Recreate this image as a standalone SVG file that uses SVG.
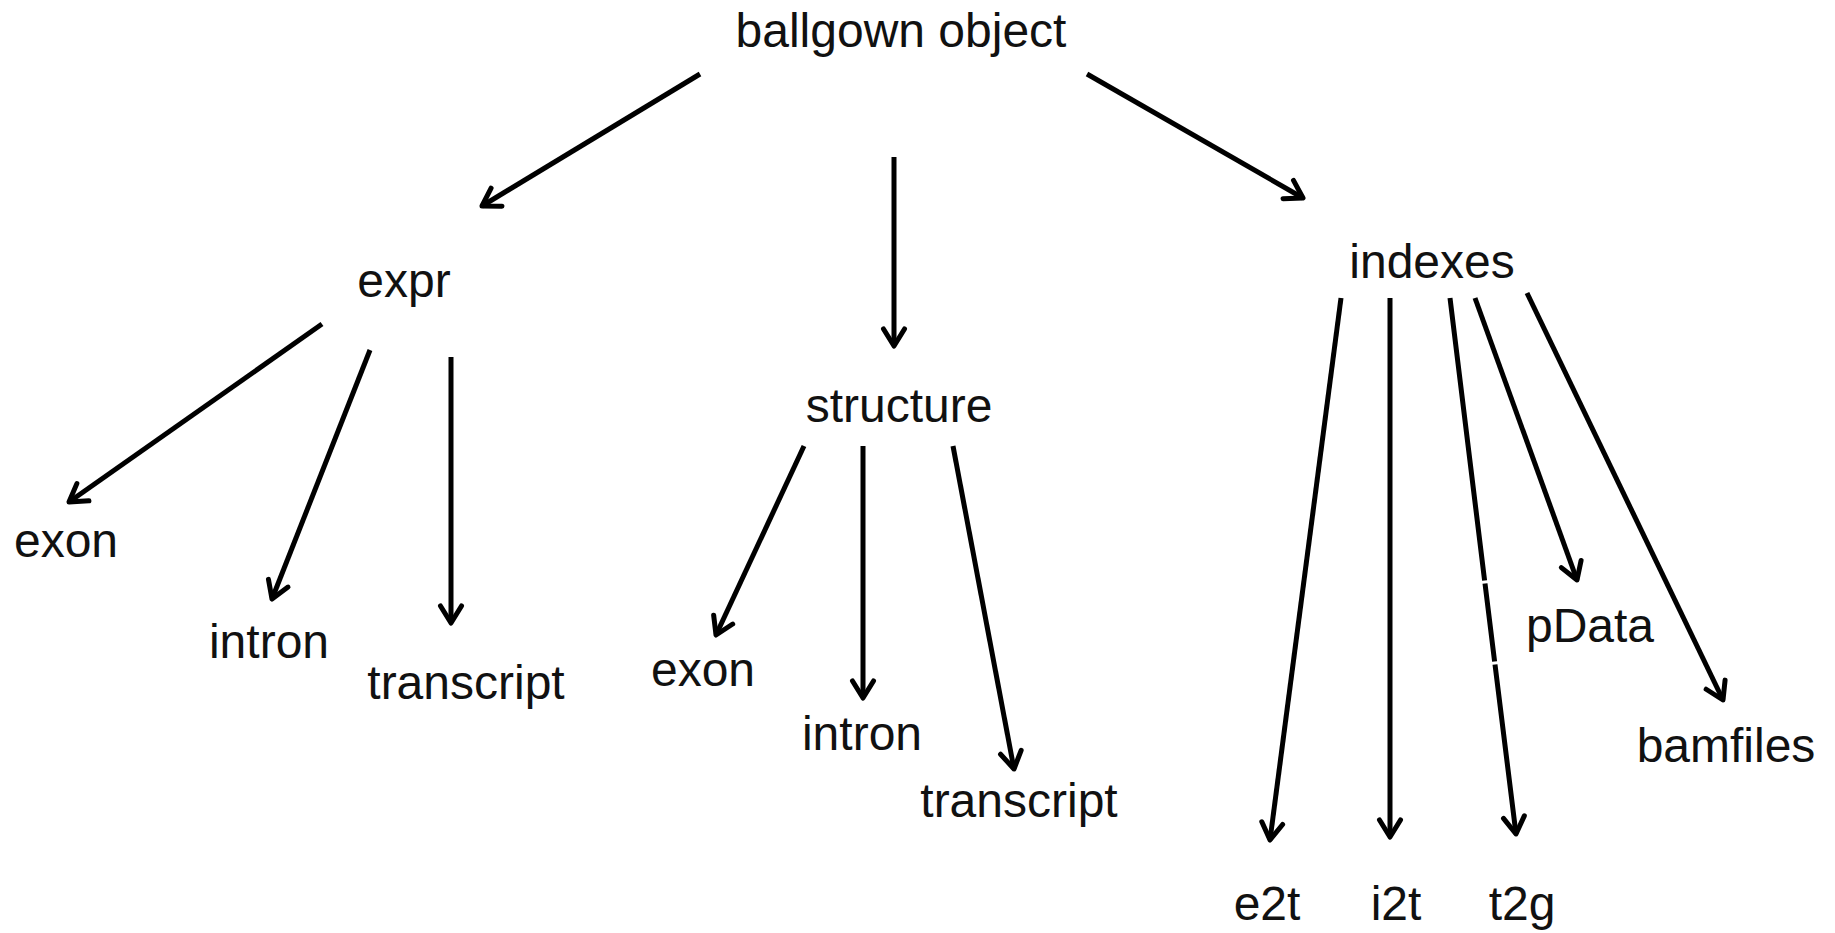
<svg xmlns="http://www.w3.org/2000/svg" width="1835" height="933" viewBox="0 0 1835 933">
<style>
  .lbl { font-family: "Liberation Sans", Arial, Helvetica, sans-serif; font-size: 48px; fill: #111; text-anchor: middle; }
  .edge { fill: none; stroke: #000; stroke-width: 5; stroke-linecap: butt; marker-end: url(#arr); }
</style>
<defs>
  <marker id="arr" markerUnits="userSpaceOnUse" orient="auto" markerWidth="40" markerHeight="40" refX="0" refY="0" viewBox="-25 -20 40 40" overflow="visible">
    <path d="M-17,-10.5 L0,0 L-17,10.5" fill="none" stroke="#000" stroke-width="5" stroke-linecap="round" stroke-linejoin="round"/>
  </marker>
</defs>
<rect width="1835" height="933" fill="#fff"/>
<g id="connectors">
  <path class="edge" d="M700,74 L482,206"/>
  <path class="edge" d="M894,157 L894,346"/>
  <path class="edge" d="M1087,74 L1303,198"/>
  <path class="edge" d="M322,324 L69,502"/>
  <path class="edge" d="M370,350 L272,599"/>
  <path class="edge" d="M451,357 L451,623"/>
  <path class="edge" d="M804,446 L716,635"/>
  <path class="edge" d="M863,446 L863,698"/>
  <path class="edge" d="M953,446 L1014,769"/>
  <path class="edge" d="M1341,298 L1270,840"/>
  <path class="edge" d="M1390,298 L1390,837"/>
  <path class="edge" d="M1450,298 L1484.6,580.5 M1485,583.5 L1494.6,661.5 M1495,664.5 L1516,834"/>
  <path class="edge" d="M1475,298 L1577,580"/>
  <path class="edge" d="M1527,293 L1723,700"/>
</g>
<g id="n-ballgown"><text class="lbl" x="901" y="47">ballgown object</text></g>
<g id="n-expr"><text class="lbl" x="404" y="297">expr</text></g>
<g id="n-structure"><text class="lbl" x="899" y="422">structure</text></g>
<g id="n-indexes"><text class="lbl" x="1432" y="278">indexes</text></g>
<g id="n-expr-exon"><text class="lbl" x="66" y="557">exon</text></g>
<g id="n-expr-intron"><text class="lbl" x="269" y="658">intron</text></g>
<g id="n-expr-transcript"><text class="lbl" x="466" y="699">transcript</text></g>
<g id="n-structure-exon"><text class="lbl" x="703" y="686">exon</text></g>
<g id="n-structure-intron"><text class="lbl" x="862" y="750">intron</text></g>
<g id="n-structure-transcript"><text class="lbl" x="1019" y="817">transcript</text></g>
<g id="n-pData"><text class="lbl" x="1590" y="642">pData</text></g>
<g id="n-bamfiles"><text class="lbl" x="1726" y="762">bamfiles</text></g>
<g id="n-e2t"><text class="lbl" x="1267" y="920">e2t</text></g>
<g id="n-i2t"><text class="lbl" x="1396" y="920">i2t</text></g>
<g id="n-t2g"><text class="lbl" x="1522" y="920">t2g</text></g>
</svg>
